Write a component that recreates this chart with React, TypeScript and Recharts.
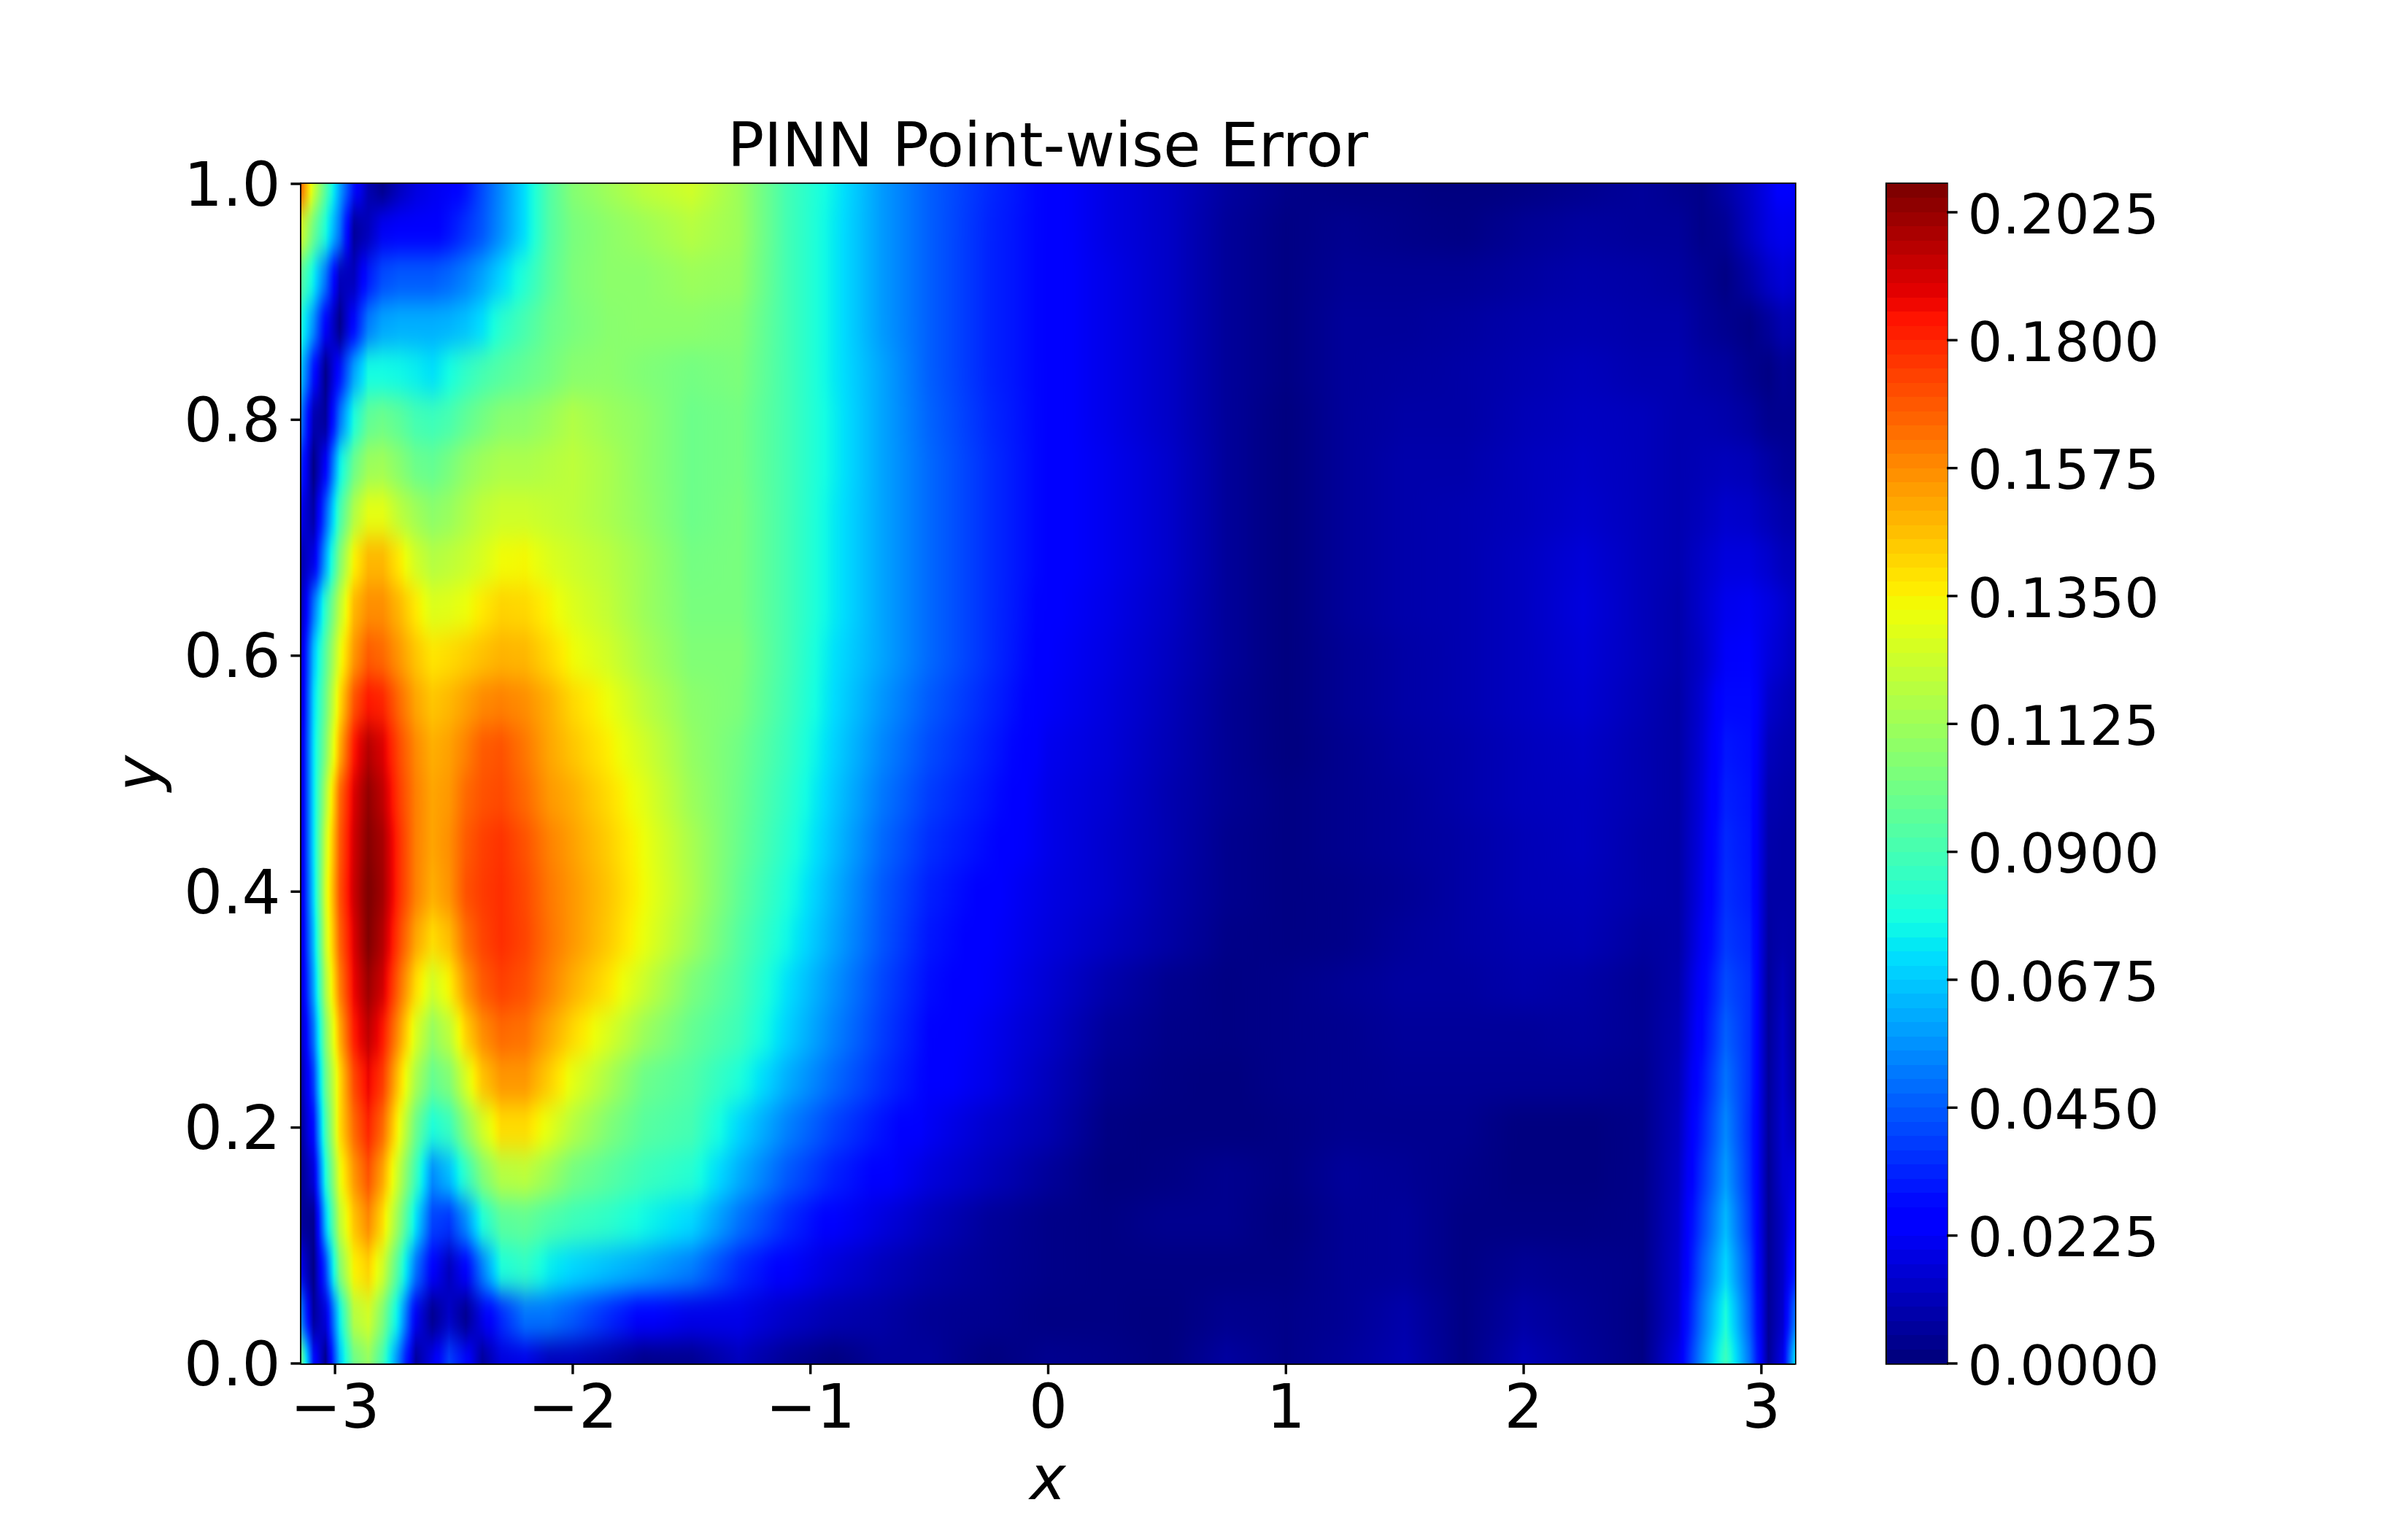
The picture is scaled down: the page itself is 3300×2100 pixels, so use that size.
import React from 'react';
import { ScatterChart, Scatter, XAxis, YAxis, ReferenceArea, BarChart, Bar } from 'recharts';

const FONT = '"DejaVu Sans", sans-serif';

// contourf sample nodes, denser where the left ridges are narrow
const xNodes = [-3.1416, -3.09, -3.04, -2.98, -2.92, -2.86, -2.8, -2.73, -2.66, -2.59, -2.52, -2.45, -2.38, -2.3, -2.2, -2.1, -2.0, -1.85, -1.7, -1.5, -1.3, -1.1, -0.9, -0.7, -0.5, -0.25, 0, 0.25, 0.5, 0.75, 1.0, 1.25, 1.5, 1.75, 2.0, 2.25, 2.5, 2.65, 2.75, 2.85, 2.95, 3.03, 3.09, 3.1416];
const yNodes = [1.0, 0.96, 0.92, 0.88, 0.84, 0.8, 0.76, 0.72, 0.68, 0.64, 0.6, 0.56, 0.52, 0.48, 0.44, 0.4, 0.36, 0.32, 0.28, 0.24, 0.2, 0.16, 0.12, 0.08, 0.04, 0];

// point-wise error, in units of 0.001, one list per y
const row100 = [165, 125, 95, 60, 30, 10, 3, 12, 18, 21, 23, 30, 42, 55, 72, 93, 106, 113, 120, 125, 112, 90, 75, 58, 46, 35, 26, 19, 14, 7, 3, 2, 2, 1, 2, 4, 6, 4, 3, 8, 14, 20, 26, 22];
const row096 = [125, 100, 80, 50, 6, 12, 22, 24, 24, 25, 30, 37, 44, 56, 72, 93, 103, 108, 112, 118, 112, 90, 74, 58, 46, 34, 26, 19, 14, 6, 2, 4, 3, 2, 5, 7, 6, 6, 3, 5, 13, 19, 21, 20];
const row092 = [95, 75, 50, 12, 12, 32, 42, 45, 45, 45, 48, 53, 60, 70, 82, 95, 104, 108, 108, 112, 110, 90, 74, 58, 46, 34, 26, 20, 14, 6, 2, 5, 5, 5, 7, 9, 8, 7, 5, 2, 8, 14, 17, 15];
const row088 = [80, 55, 25, 3, 28, 52, 60, 62, 62, 62, 63, 66, 72, 83, 91, 99, 103, 107, 108, 108, 106, 90, 74, 58, 46, 34, 26, 20, 14, 6, 2, 6, 6, 7, 9, 10, 9, 9, 6, 4, 2, 6, 10, 9];
const row084 = [65, 30, 3, 30, 60, 78, 78, 77, 75, 72, 78, 85, 90, 94, 98, 102, 107, 108, 105, 102, 104, 90, 74, 60, 46, 34, 26, 20, 14, 6, 2, 6, 7, 8, 10, 12, 10, 10, 8, 7, 4, 2, 5, 4];
const row080 = [50, 10, 6, 50, 80, 97, 100, 96, 90, 88, 91, 97, 102, 107, 108, 112, 117, 112, 108, 100, 102, 90, 75, 60, 47, 35, 26, 20, 14, 6, 1, 6, 8, 8, 11, 13, 12, 10, 10, 9, 7, 4, 4, 4];
const row076 = [35, 2, 25, 75, 100, 112, 113, 107, 100, 98, 103, 109, 113, 116, 116, 118, 120, 115, 108, 100, 102, 90, 75, 60, 48, 36, 26, 21, 15, 6, 1, 6, 9, 9, 12, 14, 12, 10, 11, 12, 11, 8, 6, 5];
const row072 = [20, 8, 45, 90, 117, 130, 130, 120, 113, 108, 111, 116, 121, 124, 124, 122, 120, 115, 109, 100, 103, 90, 74, 60, 48, 36, 26, 21, 15, 6, 1, 6, 9, 10, 12, 15, 12, 10, 12, 15, 14, 11, 9, 8];
const row068 = [10, 20, 60, 105, 135, 148, 148, 137, 125, 118, 120, 123, 127, 133, 134, 128, 124, 119, 112, 102, 103, 90, 74, 60, 48, 36, 26, 21, 15, 6, 1, 6, 9, 10, 13, 17, 12, 10, 14, 18, 18, 15, 12, 11];
const row064 = [10, 50, 85, 120, 148, 157, 157, 148, 137, 128, 129, 132, 137, 142, 141, 135, 128, 121, 112, 103, 103, 90, 74, 60, 48, 36, 25, 20, 14, 6, 1, 6, 9, 10, 13, 18, 12, 9, 15, 21, 22, 19, 16, 13];
const row060 = [15, 65, 95, 130, 155, 168, 165, 155, 145, 138, 140, 143, 146, 149, 148, 141, 133, 125, 115, 105, 105, 90, 72, 60, 48, 36, 24, 19, 13, 6, 1, 5, 8, 10, 13, 17, 12, 9, 14, 23, 24, 18, 15, 12];
const row056 = [16, 70, 100, 140, 170, 183, 180, 165, 152, 145, 148, 153, 158, 160, 157, 150, 141, 132, 120, 108, 104, 89, 71, 57, 45, 34, 23, 18, 12, 5, 1, 5, 8, 10, 13, 16, 11, 8, 16, 28, 28, 15, 12, 10];
const row052 = [18, 72, 105, 150, 183, 197, 190, 172, 158, 150, 153, 160, 168, 170, 162, 152, 145, 136, 125, 110, 101, 87, 69, 54, 42, 32, 21, 17, 11, 5, 1, 4, 7, 9, 12, 14, 10, 8, 17, 31, 29, 12, 10, 9];
const row048 = [18, 72, 115, 165, 190, 203, 195, 175, 160, 152, 155, 165, 170, 172, 165, 155, 150, 140, 129, 112, 100, 85, 67, 51, 39, 30, 20, 16, 10, 5, 2, 4, 6, 9, 12, 13, 10, 8, 18, 33, 30, 10, 9, 8];
const row044 = [18, 72, 122, 168, 192, 205, 199, 178, 160, 152, 157, 168, 174, 177, 170, 160, 153, 143, 132, 115, 99, 83, 65, 48, 36, 28, 20, 15, 10, 4, 2, 4, 6, 8, 11, 13, 9, 8, 19, 35, 31, 9, 8, 8];
const row040 = [18, 70, 125, 170, 193, 207, 200, 178, 160, 150, 156, 170, 175, 178, 172, 162, 155, 145, 133, 116, 97, 80, 62, 45, 33, 25, 19, 15, 9, 4, 2, 3, 5, 8, 11, 12, 9, 8, 20, 36, 32, 8, 8, 8];
const row036 = [18, 65, 122, 166, 190, 206, 197, 173, 152, 140, 147, 164, 173, 178, 173, 163, 155, 144, 131, 113, 94, 77, 60, 44, 31, 24, 18, 13, 8, 3, 2, 3, 6, 8, 10, 11, 7, 8, 22, 38, 34, 7, 9, 8];
const row032 = [15, 60, 115, 160, 187, 201, 192, 165, 140, 125, 135, 155, 168, 174, 170, 160, 150, 138, 123, 104, 91, 72, 56, 41, 29, 23, 16, 9, 4, 2, 3, 5, 7, 7, 9, 8, 5, 9, 25, 42, 36, 6, 12, 6];
const row028 = [12, 50, 105, 150, 182, 195, 183, 155, 127, 110, 120, 142, 157, 165, 163, 152, 141, 127, 112, 98, 88, 69, 53, 39, 27, 21, 14, 6, 3, 2, 3, 4, 6, 6, 6, 7, 5, 10, 27, 46, 36, 6, 14, 5];
const row024 = [8, 40, 98, 140, 172, 187, 175, 143, 115, 98, 105, 126, 145, 155, 155, 143, 130, 115, 100, 93, 80, 62, 48, 36, 26, 20, 12, 4, 2, 1, 3, 4, 5, 5, 5, 5, 4, 11, 30, 50, 36, 6, 15, 6];
const row020 = [6, 30, 90, 140, 165, 180, 165, 132, 100, 80, 87, 107, 125, 140, 140, 130, 118, 105, 95, 90, 70, 53, 40, 30, 22, 15, 10, 2, 1, 1, 2, 4, 4, 4, 1, 1, 3, 12, 33, 54, 35, 6, 16, 10];
const row016 = [4, 18, 80, 130, 155, 170, 152, 120, 88, 55, 65, 85, 105, 118, 120, 112, 102, 95, 88, 82, 62, 45, 33, 25, 18, 12, 6, 1, 2, 4, 2, 6, 5, 3, 1, 1, 3, 13, 36, 58, 36, 5, 16, 18];
const row012 = [6, 4, 65, 120, 145, 158, 140, 108, 72, 40, 37, 55, 80, 95, 97, 92, 88, 84, 77, 70, 50, 35, 24, 18, 12, 6, 3, 2, 4, 4, 1, 5, 6, 2, 2, 2, 3, 14, 40, 64, 38, 5, 14, 24];
const row008 = [20, 2, 40, 105, 135, 142, 125, 90, 50, 25, 12, 25, 52, 80, 85, 75, 70, 65, 60, 52, 35, 24, 17, 12, 8, 5, 3, 2, 2, 2, 2, 5, 6, 2, 5, 4, 3, 15, 45, 70, 42, 5, 14, 32];
const row004 = [52, 6, 18, 75, 118, 125, 105, 70, 22, 4, 14, 4, 20, 35, 50, 50, 45, 35, 25, 20, 20, 14, 10, 8, 5, 4, 2, 2, 1, 4, 3, 5, 9, 2, 8, 5, 2, 16, 50, 80, 45, 5, 15, 50];
const row000 = [100, 30, 3, 65, 100, 110, 90, 50, 6, 20, 40, 28, 6, 18, 20, 12, 12, 8, 3, 4, 12, 5, 1, 6, 6, 1, 4, 3, 1, 7, 3, 6, 10, 2, 11, 6, 2, 20, 55, 88, 50, 5, 20, 72];
const errorRows = [row100, row096, row092, row088, row084, row080, row076, row072, row068, row064, row060, row056, row052, row048, row044, row040, row036, row032, row028, row024, row020, row016, row012, row008, row004, row000];

const xTicks = [-3, -2, -1, 0, 1, 2, 3];
const yTicks = [0, 0.2, 0.4, 0.6, 0.8, 1];
const cbarTicks = [0, 0.0225, 0.045, 0.0675, 0.09, 0.1125, 0.135, 0.1575, 0.18, 0.2025];
// contour level edges of the colour bar
const levels = [0, 0.0025, 0.005, 0.0075, 0.01, 0.0125, 0.015, 0.0175, 0.02, 0.0225, 0.025, 0.0275, 0.03, 0.0325, 0.035, 0.0375, 0.04, 0.0425, 0.045, 0.0475, 0.05, 0.0525, 0.055, 0.0575, 0.06, 0.0625, 0.065, 0.0675, 0.07, 0.0725, 0.075, 0.0775, 0.08, 0.0825, 0.085, 0.0875, 0.09, 0.0925, 0.095, 0.0975, 0.1, 0.1025, 0.105, 0.1075, 0.11, 0.1125, 0.115, 0.1175, 0.12, 0.1225, 0.125, 0.1275, 0.13, 0.1325, 0.135, 0.1375, 0.14, 0.1425, 0.145, 0.1475, 0.15, 0.1525, 0.155, 0.1575, 0.16, 0.1625, 0.165, 0.1675, 0.17, 0.1725, 0.175, 0.1775, 0.18, 0.1825, 0.185, 0.1875, 0.19, 0.1925, 0.195, 0.1975, 0.2, 0.2025, 0.205, 0.2075];

const PLOT = { left: 413, top: 252, right: 2460, bottom: 1869 };
const BAR = { left: 2585.5, right: 2668 };
const pxPerX = (PLOT.right - PLOT.left) / (2 * 3.1416);
const pxPerY = PLOT.bottom - PLOT.top;

function jet(v: number) {
  const t = Math.min(1, Math.max(0, (v - 0.00125) / 0.205));
  const r = t < 0.35 ? 0 : t < 0.66 ? (t - 0.35) / 0.31 : t < 0.89 ? 1 : 1 - (0.5 * (t - 0.89)) / 0.11;
  const g = t < 0.125 ? 0 : t < 0.375 ? (t - 0.125) / 0.25 : t < 0.64 ? 1 : t < 0.91 ? 1 - (t - 0.64) / 0.27 : 0;
  const b = t < 0.11 ? 0.5 + (0.5 * t) / 0.11 : t < 0.34 ? 1 : t < 0.65 ? 1 - (t - 0.34) / 0.31 : 0;
  return `rgb(${Math.round(r * 255)},${Math.round(g * 255)},${Math.round(b * 255)})`;
}

const cells = yNodes.flatMap((y, r) =>
  xNodes.map((x, c) => ({
    x,
    y,
    r,
    c,
    v: errorRows[r][c] / 1000,
    next: c + 1 < xNodes.length ? errorRows[r][c + 1] / 1000 : null,
    nextX: c + 1 < xNodes.length ? xNodes[c + 1] : null,
  })),
);

const STOPS = [0, 0.2, 0.4, 0.6, 0.8, 1];

// one cell runs from its node to the next node along x, the colour follows jet between the two
function HeatCell(props: any) {
  const { cx, cy, payload } = props;
  const { r, c, v, next, nextX, x } = payload;
  if (next === null) return <g />;
  const width = (nextX - x) * pxPerX;
  const half = 0.02 * pxPerY;
  const top = r === 0 ? cy - 120 : cy - half;
  const bottom = r === yNodes.length - 1 ? cy + 120 : cy + half + 0.5;
  const id = `cell-${r}-${c}`;
  return (
    <g>
      <linearGradient id={id} gradientUnits="userSpaceOnUse" x1={cx} x2={cx + width} y1={0} y2={0}>
        {STOPS.map((s) => (
          <stop key={s} offset={s} stopColor={jet(v + (next - v) * s)} />
        ))}
      </linearGradient>
      <rect x={cx} y={top} width={width + 1} height={bottom - top} fill={`url(#${id})`} />
    </g>
  );
}

const barRow: Record<string, number | string> = { name: 'error' };
levels.slice(1).forEach((edge, i) => {
  barRow[`band${i}`] = edge - levels[i];
});

const tickStyle = { fontSize: 83.3, fontFamily: FONT, fill: '#000' };
const cbarTickStyle = { fontSize: 75, fontFamily: FONT, fill: '#000', dy: 2 };
const lineStyle = { stroke: '#000', strokeWidth: 3.4 };

export default function App() {
  return (
    <div style={{ position: 'absolute', left: 0, top: 0, width: 3300, height: 2100, background: '#fff' }}>
      <style>{`.recharts-scatter { filter: url(#heatBlur); clip-path: url(#plotClip); }
.recharts-bar-rectangle path { shape-rendering: crispEdges; }`}</style>
      <svg width={0} height={0} style={{ position: 'absolute' }}>
        <defs>
          <filter id="heatBlur" filterUnits="userSpaceOnUse" x={0} y={0} width={3300} height={2100} colorInterpolationFilters="sRGB">
            <feGaussianBlur stdDeviation="0 17" />
          </filter>
          <clipPath id="plotClip">
            <rect x={PLOT.left} y={PLOT.top} width={PLOT.right - PLOT.left} height={PLOT.bottom - PLOT.top} />
          </clipPath>
        </defs>
      </svg>
      <div style={{ position: 'absolute', left: 0, top: 0 }}>
        <ScatterChart
          width={3300}
          height={2100}
          margin={{ left: PLOT.left - 200, top: PLOT.top, right: 3300 - PLOT.right, bottom: 2100 - PLOT.bottom - 120 }}
        >
          <XAxis
            type="number"
            dataKey="x"
            domain={[-3.1416, 3.1416]}
            ticks={xTicks}
            interval={0}
            height={120}
            tick={tickStyle}
            tickSize={14.6}
            tickMargin={14}
            tickLine={lineStyle}
            axisLine={lineStyle}
            tickFormatter={(v: number) => (v < 0 ? `\u2212${-v}` : `${v}`)}
          />
          <YAxis
            type="number"
            dataKey="y"
            domain={[0, 1]}
            ticks={yTicks}
            interval={0}
            width={200}
            tick={tickStyle}
            tickSize={14.6}
            tickMargin={14}
            tickLine={lineStyle}
            axisLine={lineStyle}
            tickFormatter={(v: number) => v.toFixed(1)}
          />
          <Scatter data={cells} shape={HeatCell} isAnimationActive={false} />
          <ReferenceArea
            x1={-3.1416}
            x2={3.1416}
            y1={0}
            y2={1}
            fill="none"
            stroke="#000"
            strokeWidth={3.4}
            ifOverflow="visible"
          />
          <text x={1436} y={228} textAnchor="middle" fontSize={83.3} fontFamily={FONT} fill="#000">
            PINN Point-wise Error
          </text>
          <text x={1436} y={2055} textAnchor="middle" fontSize={83.3} fontFamily={FONT} fontStyle="italic" fill="#000">
            x
          </text>
          <text
            x={218}
            y={1060}
            textAnchor="middle"
            fontSize={83.3}
            fontFamily={FONT}
            fontStyle="italic"
            fill="#000"
            transform="rotate(-90 218 1060)"
          >
            y
          </text>
        </ScatterChart>
      </div>
      <div style={{ position: 'absolute', left: 2400, top: 0 }}>
        <BarChart
          width={700}
          height={2100}
          data={[barRow]}
          barCategoryGap={0}
          margin={{ left: BAR.left - 2400, top: PLOT.top, right: 700 - (BAR.right - 2400) - 220, bottom: 2100 - PLOT.bottom }}
        >
          <XAxis dataKey="name" hide />
          <YAxis
            orientation="right"
            type="number"
            domain={[0, 0.2075]}
            ticks={cbarTicks}
            interval={0}
            width={220}
            tick={cbarTickStyle}
            tickSize={14.6}
            tickMargin={14}
            tickLine={lineStyle}
            axisLine={false}
            tickFormatter={(v: number) => v.toFixed(4)}
          />
          {levels.slice(1).map((edge, i) => (
            <Bar
              key={edge}
              dataKey={`band${i}`}
              stackId="levels"
              fill={jet((edge + levels[i]) / 2)}
              isAnimationActive={false}
            />
          ))}
          <ReferenceArea y1={0} y2={0.2075} fill="none" stroke="#000" strokeWidth={3.4} ifOverflow="visible" />
        </BarChart>
      </div>
    </div>
  );
}
